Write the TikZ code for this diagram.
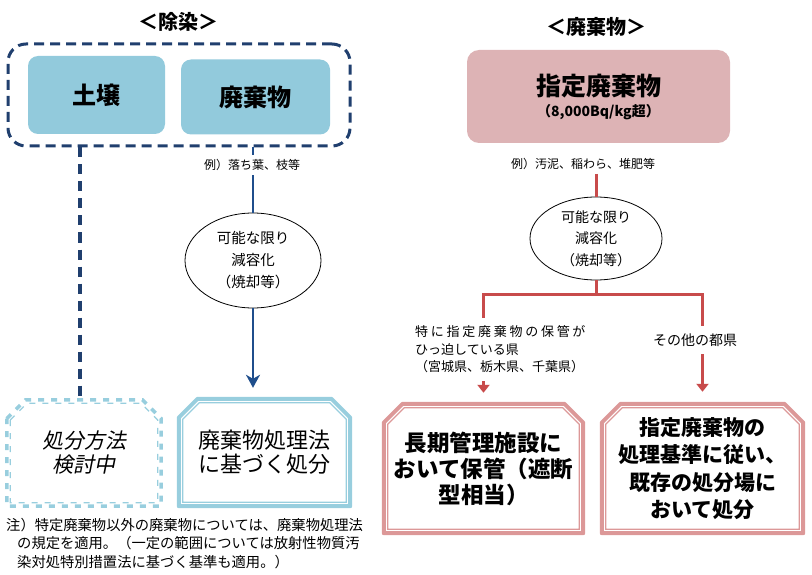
\documentclass[tikz,border=0pt]{standalone}
\usepackage{fontspec}
\setmainfont{Noto Sans CJK JP}
\newfontfamily\slantjp[FakeSlant=0.2]{Noto Sans CJK JP}
\usetikzlibrary{shapes.geometric,arrows.meta}
\definecolor{navy}{HTML}{203F6E}
\definecolor{arrowblue}{HTML}{1F4E8C}
\definecolor{boxblue}{HTML}{92CADC}
\definecolor{frameblue}{HTML}{98CEDE}
\definecolor{boxpink}{HTML}{DDB3B5}
\definecolor{framered}{HTML}{DC9898}
\definecolor{linered}{HTML}{C84B4B}
% frame with cut top corners round a node
\newcommand{\cutframe}[3]{%
  \draw[#3] ([shift={(#2,-20-0.4*#2)}]#1.north west)
    -- ([shift={(20+0.4*#2,-#2)}]#1.north west)
    -- ([shift={(-20-0.4*#2,-#2)}]#1.north east)
    -- ([shift={(-#2,-20-0.4*#2)}]#1.north east)
    -- ([shift={(-#2,#2)}]#1.south east)
    -- ([shift={(#2,#2)}]#1.south west) -- cycle;}
\tikzset{
  title/.style={font=\fontsize{20}{24}\selectfont\bfseries, inner sep=0pt},
  groupbox/.style={draw=navy, line width=3pt, dash pattern=on 10pt off 6pt, rounded corners=18pt},
  bluebox/.style={fill=boxblue, rounded corners=10pt, font=\fontsize{24}{28}\selectfont\bfseries},
  pinkbox/.style={fill=boxpink, rounded corners=12pt, align=center},
  example/.style={fill=white, font=\fontsize{12}{14}\selectfont, inner xsep=2pt, inner ysep=4pt},
  oval/.style={ellipse, draw, line width=0.8pt, inner sep=0pt, align=center, font=\fontsize{14.5}{22}\selectfont},
  plain/.style={inner sep=0pt, align=center},
  outerblue/.style={draw=frameblue, line width=4pt, line join=round},
  innerblue/.style={draw=frameblue, line width=1.3pt},
  outerdash/.style={draw=frameblue, line width=3.5pt, dash pattern=on 6pt off 7pt},
  innerdash/.style={draw=frameblue, line width=1.3pt, dash pattern=on 6pt off 7pt},
  outerred/.style={draw=framered, line width=4pt, line join=round},
  innerred/.style={draw=framered, line width=1.3pt},
  navydash/.style={draw=navy, line width=3.5pt, dash pattern=on 10pt off 7pt},
  blueline/.style={draw=arrowblue, line width=2.5pt},
  redline/.style={draw=linered, line width=3pt},
  redarrow/.style={redline, -{Triangle[length=8pt,width=12pt]}},
  sidenote/.style={fill=white, inner xsep=2pt, inner ysep=8pt, font=\fontsize{13}{17.5}\selectfont}
}
\begin{document}
\begin{tikzpicture}[x=1pt,y=1pt,>={Stealth[length=13pt,width=14pt,inset=4pt]}]
\useasboundingbox (0,0) rectangle (812,-575);
% left half
\node[title] (t1) at (178,-22) {＜除染＞};
\node[groupbox, minimum width=342pt, minimum height=102pt] (group) at (179,-95) {};
\node[bluebox, minimum width=137pt, minimum height=78pt] (soil) at (96.5,-95) {土壌};
\node[bluebox, minimum width=149pt, minimum height=75pt] (waste) at (255.5,-97) {廃棄物};
\node[oval, minimum width=136pt, minimum height=95pt] (e1) at (253,-260.5) {可能な限り\\減容化\\（焼却等）};
\node[plain, minimum width=158pt, minimum height=110pt, font=\fontsize{21}{24}\slantjp] (ll) at (84,-453) {処分方法\\検討中};
\node[plain, minimum width=175pt, minimum height=111pt, font=\fontsize{22}{24}\selectfont] (mid) at (264.5,-452.5) {廃棄物処理法\\に基づく処分};
\cutframe{ll}{2}{outerdash}
\cutframe{ll}{5.5}{innerdash}
\cutframe{mid}{2}{outerblue}
\cutframe{mid}{6}{innerblue}
\draw[navydash] ([xshift=-4pt]ll.north |- group.south) -- ([xshift=-4pt]ll.north);
\draw[blueline] (e1.north |- group.south) -- (e1.north);
\draw[blueline,->,shorten >=9pt] (e1.south) -- (e1.south |- mid.north);
\node[example] (ex1) at (252,-165) {例）落ち葉、枝等};
\node[plain, anchor=north west, align=left, font=\fontsize{14.3}{18.5}\selectfont] (note) at (6,-518)
  {注）特定廃棄物以外の廃棄物については、廃棄物処理法\\\hspace*{11pt}の規定を適用。（一定の範囲については放射性物質汚\\\hspace*{11pt}染対処特別措置法に基づく基準も適用。）};
% right half
\node[title] (t2) at (596,-27) {＜廃棄物＞};
\node[pinkbox, minimum width=263pt, minimum height=93pt, font=\fontsize{25}{30}\selectfont\bfseries] (dw) at (598.5,-96.5)
  {指定廃棄物\\[-9pt]{\fontsize{14}{16}\selectfont （8,000Bq/kg超）}};
\node[example, fill=none] (ex2) at (583,-164) {例）汚泥、稲わら、堆肥等};
\node[oval, minimum width=132pt, minimum height=83pt, font=\fontsize{14}{21.5}\selectfont] (e2) at (596,-238.5) {可能な限り\\減容化\\（焼却等）};
\coordinate (fork) at (596,-294);
\node[plain, minimum width=203pt, minimum height=133pt, font=\fontsize{22.5}{26}\selectfont\bfseries] (r1) at (483.5,-468.5) {長期管理施設に\\おいて保管（遮断\\型相当）};
\node[plain, minimum width=205pt, minimum height=133pt, font=\fontsize{21}{27.5}\selectfont\bfseries] (r2) at (702.5,-468.5) {指定廃棄物の\\処理基準に従い、\\既存の処分場に\\おいて処分};
\cutframe{r1}{2}{outerred}
\cutframe{r1}{6}{innerred}
\cutframe{r2}{2}{outerred}
\cutframe{r2}{6}{innerred}
\draw[redline] (e2.north |- ex2.south) -- (e2.north);
\draw[redline] (e2.south) -- (fork);
\draw[redarrow, shorten >=9pt] (fork) -| (r1.north);
\draw[redarrow, shorten >=10pt] (fork) -| (r2.north);
\node[sidenote, anchor=west, align=left] (lab1) at (413,-349.5)
  {{\addfontfeatures{LetterSpace=21}特に指定廃棄物の保管が}\\ひっ迫している県\\（宮城県、栃木県、千葉県）};
\node[sidenote, font=\fontsize{14}{17}\selectfont] (lab2) at (695,-340) {その他の都県};
\end{tikzpicture}
\end{document}
